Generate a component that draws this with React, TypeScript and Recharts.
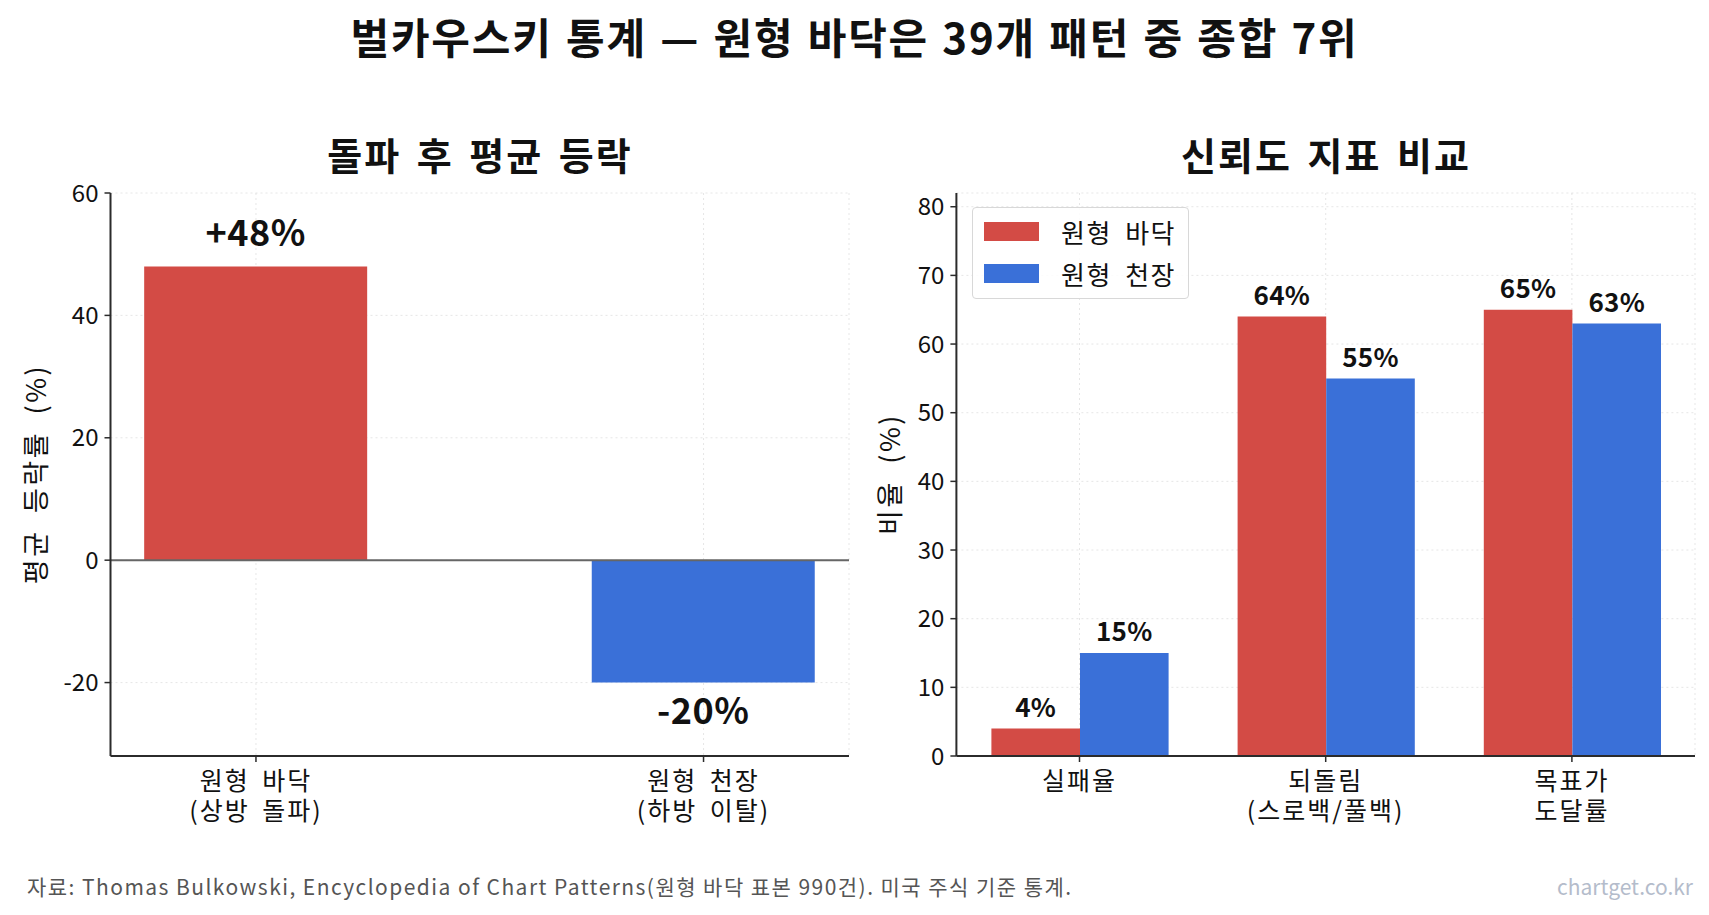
import React from "react";
import {
  BarChart,
  Bar,
  XAxis,
  YAxis,
  CartesianGrid,
  Cell,
  LabelList,
  ReferenceLine,
} from "recharts";

// 데이터
const moveCategories = ["원형 바닥\n(상방 돌파)", "원형 천장\n(하방 이탈)"];
const moveValues = [48, -20];
const moveTicks = [-20, 0, 20, 40, 60];

const metricCategories = ["실패율", "되돌림\n(스로백/풀백)", "목표가\n도달률"];
const bottomValues = [4, 64, 65];
const topValues = [15, 55, 63];
const metricTicks = [0, 10, 20, 30, 40, 50, 60, 70, 80];
const seriesNames = ["원형 바닥", "원형 천장"];

const RED = "#D34B45";
const BLUE = "#3A70D8";
const FONT = "'Noto Sans CJK KR', 'Noto Sans', sans-serif";
const AXIS = "#2b2b2b";

const moveData = moveCategories.map((name, i) => ({ x: i, name, value: moveValues[i] }));
const metricData = metricCategories.map((name, i) => ({
  name,
  bottom: bottomValues[i],
  top: topValues[i],
}));

function MultiLineTick(props: any) {
  const { x, y, payload, labels } = props;
  const raw = labels ? labels[payload.value] : payload.value;
  const lines = String(raw).split("\n");
  return (
    <text
      x={x}
      y={y}
      textAnchor="middle"
      fontFamily={FONT}
      fontSize={25}
      fill="#111"
      style={{ letterSpacing: 2, wordSpacing: 5 }}
    >
      {lines.map((l: string, i: number) => (
        <tspan key={i} x={x} dy={i === 0 ? 24 : 30}>
          {l}
        </tspan>
      ))}
    </text>
  );
}

function MoveLabel(props: any) {
  const { x, y, width, height, value } = props;
  const top = Math.min(y, y + height);
  const bottom = Math.max(y, y + height);
  const cx = x + width / 2;
  const txt = value > 0 ? `+${value}%` : `${value}%`;
  const ty = value >= 0 ? top - 33 : bottom + 28;
  return (
    <text x={cx} y={ty} dy="0.36em" textAnchor="middle" fontFamily={FONT} fontWeight={700} fontSize={36} fill="#111" style={{ letterSpacing: 0.5 }}>
      {txt}
    </text>
  );
}

function MetricLabel(props: any) {
  const { x, y, width, height, value } = props;
  const top = Math.min(y, y + height);
  return (
    <text x={x + width / 2} y={top - 21} dy="0.36em" textAnchor="middle" fontFamily={FONT} fontWeight={700} fontSize={26} fill="#111" style={{ letterSpacing: 0.3 }}>
      {`${value}%`}
    </text>
  );
}

const textBase: React.CSSProperties = {
  position: "absolute",
  fontFamily: FONT,
  lineHeight: 1,
  whiteSpace: "nowrap",
};

export default function App() {
  const colors = [RED, BLUE];
  return (
    <div style={{ position: "absolute", left: 0, top: 0, width: 1709, height: 915, background: "#fff", overflow: "hidden" }}>
      <div style={{ ...textBase, left: 0, width: 1709, top: 36, transform: "translateY(-50%)", textAlign: "center", fontSize: 42, fontWeight: 700, color: "#111", letterSpacing: 1.8, wordSpacing: 2 }}>
        벌카우스키 통계 — 원형 바닥은 39개 패턴 중 종합 7위
      </div>

      <div style={{ ...textBase, left: 110, width: 740, top: 154, transform: "translateY(-50%)", textAlign: "center", fontSize: 38, fontWeight: 700, color: "#111", letterSpacing: 2, wordSpacing: 5 }}>
        돌파 후 평균 등락
      </div>
      <div style={{ ...textBase, left: 956, width: 740, top: 154, transform: "translateY(-50%)", textAlign: "center", fontSize: 38, fontWeight: 700, color: "#111", letterSpacing: 2, wordSpacing: 5 }}>
        신뢰도 지표 비교
      </div>

      <div style={{ ...textBase, left: 34, top: 474, transform: "translate(-50%, -50%) rotate(-90deg)", fontSize: 27, color: "#111", letterSpacing: 2.5, wordSpacing: 8 }}>
        평균 등락률 (%)
      </div>
      <div style={{ ...textBase, left: 888, top: 474, transform: "translate(-50%, -50%) rotate(-90deg)", fontSize: 27, color: "#111", letterSpacing: 2.5, wordSpacing: 8 }}>
        비율 (%)
      </div>

      <div style={{ position: "absolute", left: 0, top: 0 }}>
        <BarChart width={860} height={915} data={moveData} margin={{ top: 193, right: 11, left: 30, bottom: 79 }}>
          <XAxis
            type="number"
            dataKey="x"
            domain={[-0.325, 1.325]}
            ticks={[0, 1]}
            allowDataOverflow
            height={80}
            tickSize={6}
            tickMargin={4}
            axisLine={{ stroke: AXIS, strokeWidth: 2 }}
            tickLine={{ stroke: AXIS, strokeWidth: 1.5 }}
            tick={<MultiLineTick labels={moveCategories} />}
          />
          <YAxis
            domain={[-32, 60]}
            ticks={moveTicks}
            allowDataOverflow
            width={80.5}
            tickSize={6}
            tickMargin={6}
            axisLine={{ stroke: AXIS, strokeWidth: 2 }}
            tickLine={{ stroke: AXIS, strokeWidth: 1.5 }}
            tick={{ fontFamily: FONT, fontSize: 24, fill: "#111" }}
          />
          <Bar dataKey="value" barSize={223} isAnimationActive={false}>
            {moveData.map((d, i) => (
              <Cell key={i} fill={i === 0 ? RED : BLUE} />
            ))}
            <LabelList dataKey="value" content={<MoveLabel />} />
          </Bar>
          <CartesianGrid strokeDasharray="2 3" stroke="rgba(200,200,200,0.45)" />
          <ReferenceLine y={0} stroke="#666" strokeWidth={2} />
        </BarChart>
      </div>

      <div style={{ position: "absolute", left: 870, top: 0 }}>
        <BarChart width={839} height={915} data={metricData} margin={{ top: 193, right: 14, left: 0, bottom: 79 }} barGap={0}>
          <XAxis
            dataKey="name"
            height={80}
            tickSize={6}
            tickMargin={4}
            axisLine={{ stroke: AXIS, strokeWidth: 2 }}
            tickLine={{ stroke: AXIS, strokeWidth: 1.5 }}
            tick={<MultiLineTick />}
            interval={0}
          />
          <YAxis
            domain={[0, 82]}
            ticks={metricTicks}
            allowDataOverflow
            width={86.4}
            tickSize={6}
            tickMargin={6}
            axisLine={{ stroke: AXIS, strokeWidth: 2 }}
            tickLine={{ stroke: AXIS, strokeWidth: 1.5 }}
            tick={{ fontFamily: FONT, fontSize: 24, fill: "#111" }}
          />
          <Bar dataKey="bottom" name={seriesNames[0]} fill={RED} barSize={88.6} isAnimationActive={false}>
            <LabelList dataKey="bottom" content={<MetricLabel />} />
          </Bar>
          <Bar dataKey="top" name={seriesNames[1]} fill={BLUE} barSize={88.6} isAnimationActive={false}>
            <LabelList dataKey="top" content={<MetricLabel />} />
          </Bar>
          <CartesianGrid strokeDasharray="2 3" stroke="rgba(200,200,200,0.45)" />
        </BarChart>
      </div>

      {/* 범례 */}
      <div
        style={{
          position: "absolute",
          left: 972,
          top: 207,
          width: 217,
          height: 92,
          border: "1.5px solid #d8d8d8",
          borderRadius: 4,
          background: "rgba(255,255,255,0.85)",
          boxSizing: "border-box",
          fontFamily: FONT,
        }}
      >
        {seriesNames.map((n, i) => (
          <div key={n} style={{ position: "absolute", left: 11, top: 14 + i * 42, height: 19, display: "flex", alignItems: "center" }}>
            <span style={{ display: "inline-block", width: 55, height: 19, background: colors[i], marginRight: 22 }} />
            <span style={{ fontSize: 26, color: "#111", letterSpacing: 1.5, wordSpacing: 6, lineHeight: 1 }}>{n}</span>
          </div>
        ))}
      </div>

      <div style={{ ...textBase, left: 27, top: 886, transform: "translateY(-50%)", fontSize: 21, color: "#555", letterSpacing: 1.45 }}>
        자료: Thomas Bulkowski, Encyclopedia of Chart Patterns(원형 바닥 표본 990건). 미국 주식 기준 통계.
      </div>
      <div style={{ ...textBase, right: 16, top: 886, transform: "translateY(-50%)", fontSize: 21, color: "#b4bccb" }}>
        chartget.co.kr
      </div>
    </div>
  );
}
